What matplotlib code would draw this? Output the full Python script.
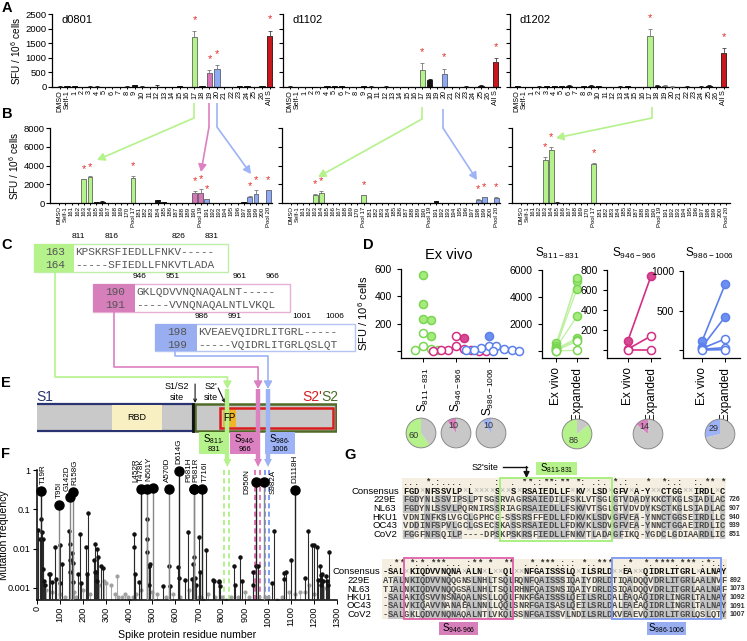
import numpy as np
import matplotlib
matplotlib.use('Agg')
import matplotlib.pyplot as plt
from matplotlib.patches import Rectangle, Polygon, Circle

plt.rcParams['font.family'] = ['Liberation Sans', 'DejaVu Sans']
plt.rcParams['mathtext.fontset'] = 'custom'
plt.rcParams['mathtext.rm'] = 'Liberation Sans'
plt.rcParams['mathtext.it'] = 'Liberation Sans:italic'
plt.rcParams['mathtext.bf'] = 'Liberation Sans:bold'
plt.rcParams['axes.linewidth'] = 0.9
plt.rcParams['xtick.major.width'] = 0.7
plt.rcParams['ytick.major.width'] = 0.8
plt.rcParams['xtick.major.size'] = 2
plt.rcParams['ytick.major.size'] = 3

# ====================== DATA ======================
A_categories = ['DMSO', 'Self-1', '1', '2', '3', '4', '5', '6', '7', '8', '9', '10', '11', '12', '13',
                '14', '15', '16', '17', '18', '19', '20', '21', '22', '23', '24', '25', '26', 'All S']
A_donors = ['d0801', 'd1102', 'd1202']
A_d0801 = [10, 20, 20, 5, 15, 10, 10, 5, 0, 15, 60, 15, 5, 10, 0, 0, 20, 5, 1720, 30, 470, 630, 0, 10, 20, 30, 10, 20, 1750]
A_d0801_err = [10, 10, 10, 5, 10, 10, 5, 5, 0, 10, 20, 10, 5, 60, 0, 0, 10, 5, 200, 10, 120, 110, 0, 5, 10, 15, 5, 10, 180]
A_d1102 = [10, 5, 10, 0, 5, 20, 40, 30, 5, 10, 25, 15, 5, 10, 10, 5, 10, 5, 590, 250, 0, 460, 0, 10, 10, 10, 50, 10, 870]
A_d1102_err = [30, 5, 5, 0, 5, 30, 10, 10, 5, 5, 10, 5, 5, 30, 5, 5, 5, 5, 230, 20, 0, 170, 0, 5, 10, 5, 30, 5, 130]
A_d1202 = [20, 0, 0, 10, 20, 20, 20, 30, 0, 30, 40, 20, 10, 10, 15, 20, 10, 10, 1750, 40, 40, 15, 5, 15, 5, 10, 30, 5, 1150]
A_d1202_err = [10, 0, 0, 10, 30, 10, 15, 30, 0, 20, 40, 15, 5, 5, 10, 10, 5, 5, 220, 30, 40, 10, 5, 10, 5, 10, 30, 5, 180]
A_highlight = {'17': 'g', '19': 'p', '20': 'b', 'All S': 'r'}
A_sig = {'d0801': ['17', '19', '20', 'All S'], 'd1102': ['17', '20', 'All S'], 'd1202': ['17', 'All S']}

B_categories = ['DMSO', 'Self-1', '161', '162', '163', '164', '165', '166', '167', '168', '169', '170', 'Pool 17',
                '181', '182', '183', '184', '185', '186', '187', '188', '189', '190', 'Pool 19',
                '191', '192', '193', '194', '195', '196', '197', '198', '199', '200', 'Pool 20']
B_d0801 = [0, 0, 0, 0, 2550, 2750, 60, 100, 30, 0, 0, 0, 2700, 0, 0, 0, 300, 80, 0, 0, 0, 0, 1100, 1020,
           400, 0, 0, 0, 0, 0, 120, 650, 930, 0, 1360]
B_d0801_err = [0, 0, 0, 0, 60, 80, 30, 150, 20, 0, 0, 0, 200, 0, 0, 0, 50, 30, 0, 0, 0, 0, 200, 480,
               50, 0, 0, 0, 0, 0, 40, 150, 500, 0, 60]
B_d1102 = [30, 0, 0, 0, 900, 1040, 0, 0, 0, 0, 0, 0, 830, 0, 0, 0, 0, 0, 0, 0, 0, 0, 0, 0,
           180, 0, 0, 0, 0, 0, 0, 360, 610, 0, 540]
B_d1102_err = [20, 0, 0, 0, 40, 200, 0, 0, 0, 0, 0, 0, 60, 0, 0, 0, 0, 0, 0, 0, 0, 0, 0, 0,
               30, 0, 0, 0, 0, 0, 0, 50, 80, 0, 80]
B_d1202 = [0, 0, 0, 0, 4550, 5630, 50, 0, 0, 0, 0, 0, 4160, 0, 0, 0, 0, 0, 0, 0, 0, 0, 0, 0,
           0, 0, 0, 0, 0, 0, 0, 0, 0, 0, 0]
B_d1202_err = [0, 0, 0, 0, 400, 330, 20, 0, 0, 0, 0, 0, 80, 0, 0, 0, 0, 0, 0, 0, 0, 0, 0, 0,
               0, 0, 0, 0, 0, 0, 0, 0, 0, 0, 0]
B_highlight = {
    'd0801': {'163': 'g', '164': 'g', 'Pool 17': 'g', '190': 'p', 'Pool 19': 'p', '191': 'b',
              '198': 'b', '199': 'b', 'Pool 20': 'b'},
    'd1102': {'163': 'g', '164': 'g', 'Pool 17': 'g', '198': 'b', '199': 'b', 'Pool 20': 'b'},
    'd1202': {'163': 'g', '164': 'g', 'Pool 17': 'g'}}
B_sig = {'d0801': ['163', '164', 'Pool 17', '190', 'Pool 19', '191', '198', '199', 'Pool 20'],
         'd1102': ['163', '164', 'Pool 17', '198', '199', 'Pool 20'],
         'd1202': ['163', '164', 'Pool 17']}

C_peptides = [('163', 'KPSKRSFIEDLLFNKV-----'), ('164', '-----SFIEDLLFNKVTLADA'),
              ('190', 'GKLQDVVNQNAQALNT-----'), ('191', '-----VVNQNAQALNTLVKQL'),
              ('198', 'KVEAEVQIDRLITGRL-----'), ('199', '-----VQIDRLITGRLQSLQT')]
C_positions = [['811', '816', '826', '831'], ['946', '951', '961', '966'], ['986', '991', '1001', '1006']]

D_epitopes = ['S$_{811-831}$', 'S$_{946-966}$', 'S$_{986-1006}$']
D_exvivo_S811 = [556, 345, 236, 228, 131, 107, 34, 15, 10, 10]
D_exvivo_S811_filled = [1, 1, 1, 1, 0, 1, 0, 0, 0, 0]
D_exvivo_S946 = [107, 95, 34, 15, 10, 5, 5, 3, 2, 1]
D_exvivo_S946_filled = [0, 1, 0, 0, 0, 0, 0, 0, 0, 0]
D_exvivo_S986 = [112, 40, 40, 20, 15, 10, 5, 5, 3, 0]
D_exvivo_S986_filled = [1, 0, 0, 0, 0, 0, 0, 0, 0, 0]
D_pair_S811_exvivo = [556, 345, 236, 228, 131, 107, 34, 10]
D_pair_S811_expanded = [5150, 4600, 5400, 2600, 970, 840, 720, 50]
D_pair_S811_filled = [1, 1, 1, 1, 1, 1, 0, 0]
D_pair_S946_exvivo = [95, 10, 0]
D_pair_S946_expanded = [740, 140, 0]
D_pair_S946_filled = [1, 0, 0]
D_pair_S986_exvivo = [112, 40, 20, 10, 0]
D_pair_S986_expanded = [830, 420, 140, 30, 5]
D_pair_S986_filled = [1, 1, 0, 0, 0]
D_pie_exvivo = [60, 10, 10]
D_pie_expanded = [86, 14, 29]

E_domains = {'S1': (-8, 677), 'RBD': (325, 541), 'S2': (685, 1295), "S2'": (793, 1283), 'FP': (806, 862)}
E_cleavage = {'S1/S2': 685, "S2'": 815}
E_peptide_marks = [825, 958, 1001]
E_label_boxes = [(702, 828), (836, 966), (988, 1118)]

F_peptides = [(811, 831), (946, 966), (986, 1006)]
F_big_names = ['T19R', 'T95I', 'G142D', 'R158G', 'L452R', 'T478K', 'N501Y', 'A570D', 'D614G',
               'P681H', 'P681R', 'T716I', 'D950N', 'S982A', 'D1118H']
F_big_pos = [19, 95, 142, 158, 452, 478, 501, 570, 614, 681, 681, 716, 950, 982, 1118]
F_big_freq = [0.30, 0.13, 0.20, 0.28, 0.32, 0.32, 0.34, 0.32, 0.95, 0.32, 0.32, 0.32, 0.50, 0.50, 0.31]
F_small_pos = [5, 12, 18, 21, 24, 27, 30, 35, 50, 56, 67, 80, 83, 98, 101, 110, 138, 141, 144, 145, 152,
               154, 157, 178, 186, 190, 213, 215, 222, 245, 250, 253, 257, 261, 262, 265, 278, 287, 420,
               420, 423, 440, 477, 477, 478, 484, 485, 486, 490, 547, 570, 575, 613, 617, 640, 655, 672,
               677, 681, 684, 688, 701, 705, 732, 761, 769, 787, 790, 793, 855, 859, 879, 889, 936, 938,
               950, 957, 1020, 1027, 1070, 1072, 1078, 1100, 1162, 1176, 1191, 1202, 1215, 1216, 1228,
               1229, 1230, 1231, 1237, 1240, 1251, 1258, 1263, 1264]
F_small_freq = [0.03, 0.018, 0.055, 0.027, 0.018, 0.003, 0.0015, 0.0012, 0.0023, 0.0022, 0.0014, 0.011,
                0.0017, 0.012, 0.0013, 0.004, 0.028, 0.0025, 0.013, 0.005, 0.0075, 0.0014, 0.0042, 0.0022,
                0.023, 0.0013, 0.011, 0.0023, 0.082, 0.005, 0.0025, 0.013, 0.0025, 0.01, 0.0015, 0.006,
                0.0035, 0.0032, 0.024, 0.011, 0.0022, 0.0014, 0.055, 0.018, 0.0082, 0.0036, 0.0035, 0.0012,
                0.004, 0.0011, 0.0035, 0.0011, 0.0033, 0.0018, 0.0016, 0.027, 0.0017, 0.004, 0.006, 0.0018,
                0.0012, 0.02, 0.0025, 0.009, 0.0016, 0.0015, 0.0014, 0.0015, 0.0011, 0.0035, 0.0012, 0.006,
                0.0015, 0.0025, 0.0012, 0.0037, 0.0036, 0.0013, 0.028, 0.0024, 0.0017, 0.0026, 0.005, 0.0018,
                0.028, 0.012, 0.012, 0.011, 0.0016, 0.0035, 0.0021, 0.0016, 0.0012, 0.0023, 0.0015, 0.002,
                0.0015, 0.0012, 0.008]
F_faint_pos = [40, 65, 100, 120, 160, 170, 200, 230, 270, 290, 300, 320, 340, 345, 350, 370, 380, 395, 400,
               415, 430, 450, 500, 520, 560, 590, 620, 660, 700, 710, 720, 740, 770, 800, 820, 840, 870, 900,
               920, 960, 990, 1000, 1040, 1060, 1090, 1120, 1140, 1160, 1180, 1200, 1245]
F_faint_freq = [0.0009, 0.0008, 0.0007, 0.0006, 0.0008, 0.0006, 0.0009, 0.0007, 0.0012, 0.0015, 0.0013,
                0.0012, 0.0007, 0.002, 0.0006, 0.0006, 0.0007, 0.0006, 0.0005, 0.0006, 0.0007, 0.0009,
                0.0008, 0.0007, 0.0006, 0.0007, 0.0006, 0.0009, 0.0006, 0.0006, 0.0005, 0.0007, 0.0006,
                0.0006, 0.0005, 0.0006, 0.0006, 0.0008, 0.0006, 0.0006, 0.0006, 0.0006, 0.0005, 0.0006,
                0.0008, 0.0007, 0.0008, 0.0008, 0.0012, 0.0007, 0.001]

G_names = ['229E', 'NL63', 'HKU1', 'OC43', 'CoV2']
G_top_consensus = 'FGD×NFSSVLP×L××××S××S×RSAIEDLLF×KV×LSD×GFV×A-Y××CTGG××IRDL×C'
G_top_seqs = ['FGDYNLSSVIPSLPTSGSRVAGRSAIEDILFSKLVTSGLGTVDADYKKCTKGLSIADLAC',
              'FGDYNLSSVLPQRNIRSSRIAGRSAIEDLLFSKVVTSGLGTVDVDYKSCTKGLSIADLAC',
              'VDNINFKSLVGCLGPHCG-SSSRSFFEDLLFDKVKLSDVGFVEA-YNNCTGGSEIRDLLC',
              'VDDINFSPVLGCLGSECSKASSRSAIEDLLFDKVKLSDVGFVEA-YNNCTGGAEIRDLIC',
              'FGGFNFSQILP----DPSKPSKRSFIEDLLFNKVTLADAGFIKQ-YGDCLGDIAARDLIC']
G_top_numbers = ['726', '907', '940', '939', '851']
G_bot_consensus = '-SAL×KIQDVVNQNA×ALN×L××QL××NFGAISSSLQ×ILSRLD××EA××QIDRLITGRL×ALNAY'
G_bot_seqs = ['ATALNKIQDVVNQQGNSLNHLTSQLRQNFQAISSSIQAIYDRLDTIQADQQVDRLITGRLAALNVF',
              'TIALNKIQDVVNQQGSALNHLTSQLRHNFQAISNSIQAIYDRLDSIQADQQVDRLITGRLAALNAF',
              '-SALAKIQSVVNSNAQALNSLLQQLFNKFGAISSSLQEILSRLDALEAQAQIDRLINGRLTALNAY',
              '-SALVKIQAVVNANAEALNNLLQQLSNRFGAISASLQEILSRLDALEAEAQIDRLINGRLTALNAY',
              '-SALGKLQDVVNQNAQALNTLVKQLSSNFGAISSVLNDILSRLDKVEAEVQIDRLITGRLQSLQTY']
G_bot_numbers = ['892', '1073', '1092', '1091', '1007']

# ====================== STYLE ======================
W, H = 747, 641
fig = plt.figure(figsize=(W / 100, H / 100), dpi=100)

COL = {'k': '#111111', 'g': '#b5f28b', 'p': '#d676b8', 'b': '#8fa9f2', 'r': '#c8181e'}
EDGE = {'k': '#111111', 'g': '#5f6a58', 'p': '#5d5560', 'b': '#556070', 'r': '#3a0a0a'}
ERRC = {'k': '#111111', 'g': '#777777', 'p': '#777777', 'b': '#777777', 'r': '#444444'}
STAR = '#e5302a'
LGREEN, LPINK, LBLUE = '#b5f28b', '#db80c0', '#9db3f5'


def axpx(x0, y0, x1, y1, **kw):
    return fig.add_axes([x0 / W, 1 - y1 / H, (x1 - x0) / W, (y1 - y0) / H], **kw)


def clean(ax):
    for s in ['top', 'right']:
        ax.spines[s].set_visible(False)
    ax.patch.set_alpha(0)


def bar_panel(ax, cats, vals, errs, highlight, sig, width, star_off):
    x = np.arange(len(cats))
    keys = [highlight.get(c, 'k') for c in cats]
    ax.bar(x, vals, width=width, color=[COL[k] for k in keys],
           edgecolor=[EDGE[k] for k in keys], linewidth=0.6, zorder=2)
    for xi, v, e, k in zip(x, vals, errs, keys):
        if e > 0:
            ax.errorbar(xi, v, yerr=[[0], [e]], fmt='none', ecolor=ERRC[k], elinewidth=0.6,
                        capsize=1.3, capthick=0.6, zorder=3)
    for c in sig:
        i = cats.index(c)
        ax.text(i, vals[i] + errs[i] + star_off, '*', color=STAR, ha='center', va='center',
                fontsize=8, zorder=4)


# ---------------- Panel A ----------------
A_vals = [A_d0801, A_d1102, A_d1202]
A_errs = [A_d0801_err, A_d1102_err, A_d1202_err]
A_px = [(52, 274), (283, 500), (510, 728)]
for k, donor in enumerate(A_donors):
    ax = axpx(A_px[k][0], 14, A_px[k][1], 87)
    clean(ax)
    bar_panel(ax, A_categories, A_vals[k], A_errs[k], A_highlight, A_sig[donor], 0.72, 380)
    ax.set_xlim(-1, 28.6)
    ax.set_ylim(0, 2500)
    ax.set_yticks([0, 500, 1000, 1500, 2000, 2500])
    ax.set_xticks(range(len(A_categories)))
    ax.set_xticklabels(A_categories, rotation=90, fontsize=5.2)
    ax.tick_params(axis='x', length=1.5, pad=1)
    ax.tick_params(axis='y', labelsize=6.8, pad=1)
    if k == 0:
        ax.set_ylabel('SFU / 10$^6$ cells', fontsize=7.2, labelpad=2)
    else:
        ax.set_yticklabels([])
    ax.text(0.045, 0.985, donor, transform=ax.transAxes, fontsize=8, va='top')

# ---------------- Panel B ----------------
B_vals = [B_d0801, B_d1102, B_d1202]
B_errs = [B_d0801_err, B_d1102_err, B_d1202_err]
B_px = [(50, 272), (282, 500), (512, 730)]
for k, donor in enumerate(A_donors):
    ax = axpx(B_px[k][0], 128, B_px[k][1], 203)
    clean(ax)
    bar_panel(ax, B_categories, B_vals[k], B_errs[k], B_highlight[donor], B_sig[donor], 0.78, 1050)
    ax.set_xlim(-1.5, 34.6)
    ax.set_ylim(0, 8000)
    ax.set_yticks([0, 2000, 4000, 6000, 8000])
    ax.set_xticks(range(len(B_categories)))
    ax.set_xticklabels(B_categories, rotation=90, fontsize=4.3)
    ax.tick_params(axis='x', length=1.5, pad=1)
    ax.tick_params(axis='y', labelsize=6.8, pad=1)
    if k == 0:
        ax.set_ylabel('SFU / 10$^6$ cells', fontsize=7.2, labelpad=2)
    else:
        ax.set_yticklabels([])

# ---------------- Panel D ----------------
DG_E, DG_F, DG_L = '#7bd654', '#a6eb7d', '#bdf0a0'
DP_E, DP_F, DP_L = '#d22f84', '#d64a92', '#d22f84'
DB_E, DB_F, DB_L = '#5b80ec', '#6d8ff0', '#5b80ec'


def swarm_offsets(vals, ypx, xpx, d):
    vals = np.asarray(vals, dtype=float)
    order = np.argsort(-vals, kind='stable')
    placed = []
    offs = np.zeros(len(vals))
    for i in order:
        y = vals[i] * ypx
        cands = [0.0]
        for s in range(1, 30):
            cands += [s * d * 0.5, -s * d * 0.5]
        for c in cands:
            if all((c - px) ** 2 + (y - py) ** 2 >= (0.85 * d) ** 2 for px, py in placed):
                placed.append((c, y))
                offs[i] = c / xpx
                break
    return offs


MS = 5.8
d1 = axpx(401, 269, 507, 358)
clean(d1)
d1.set_xlim(-0.67, 2.55)
d1.set_ylim(-51, 600)
sets = [(D_exvivo_S811, D_exvivo_S811_filled, DG_E, DG_F),
        (D_exvivo_S946, D_exvivo_S946_filled, DP_E, DP_F),
        (D_exvivo_S986, D_exvivo_S986_filled, DB_E, DB_F)]
for j, (vals, filled, ec, fc) in enumerate(sets):
    offs = swarm_offsets(vals, 82 / 600, 33, 7.6)
    for v, f, o in zip(vals, filled, offs):
        d1.plot(j + o, v, 'o', ms=MS, mec=ec, mfc=fc if f else 'white', mew=1.1, zorder=3, clip_on=False)
d1.set_yticks([0, 200, 400, 600])
d1.set_yticklabels(['', '200', '400', '600'])
d1.set_xticks([0, 1, 2])
d1.set_xticklabels(D_epitopes, rotation=90, fontsize=8.5)
d1.tick_params(labelsize=7.5)
d1.tick_params(axis='x', labelsize=8.5, length=3)
d1.set_ylabel('SFU / 10$^6$ cells', fontsize=8, labelpad=3)

pair_sets = [
    ((542, 270, 588, 358), (-0.67, 1.52), (-518, 6000), [0, 2000, 4000, 6000], ['', '2000', '4000', '6000'],
     D_pair_S811_exvivo, D_pair_S811_expanded, D_pair_S811_filled, DG_E, DG_F, DG_L, 0.9),
    ((607, 270, 660, 358), (-0.91, 1.39), (-80, 800), [0, 200, 400, 600, 800], ['', '200', '400', '600', '800'],
     D_pair_S946_exvivo, D_pair_S946_expanded, D_pair_S946_filled, DP_E, DP_F, DP_L, 1.2),
    ((683, 271, 740, 358), (-0.83, 1.65), (-101, 1000), [0, 500, 1000], ['', '500', '1000'],
     D_pair_S986_exvivo, D_pair_S986_expanded, D_pair_S986_filled, DB_E, DB_F, DB_L, 1.2),
]
for j, (px, xl, yl, yt, ytl, ev, ex_, fl, ec, fc, lc, lw) in enumerate(pair_sets):
    ax = axpx(*px)
    clean(ax)
    ax.set_xlim(*xl)
    ax.set_ylim(*yl)
    for a, b, f in zip(ev, ex_, fl):
        ax.plot([0, 1], [a, b], '-', color=lc, lw=lw, zorder=2)
        ax.plot([0, 1], [a, b], 'o', ms=MS, mec=ec, mfc=fc if f else 'white', mew=1.1, zorder=3,
                clip_on=False)
    ax.set_yticks(yt)
    ax.set_yticklabels(ytl)
    ax.set_xticks([0, 1])
    ax.set_xticklabels(['Ex vivo', 'Expanded'], rotation=90)
    ax.tick_params(axis='y', labelsize=7.5)
    ax.tick_params(axis='x', labelsize=8.5, length=3)

# pies
pie_specs = [((421, 433), D_pie_exvivo[0], LGREEN), ((456, 433), D_pie_exvivo[1], LPINK),
             ((491, 433), D_pie_exvivo[2], LBLUE), ((577, 434), D_pie_expanded[0], LGREEN),
             ((648, 434), D_pie_expanded[1], LPINK), ((720, 434), D_pie_expanded[2], LBLUE)]
for (cx, cy), pct, c in pie_specs:
    r = 15.6
    ax = axpx(cx - r, cy - r, cx + r, cy + r)
    ax.pie([pct, 100 - pct], colors=[c, '#c8c8c8'], startangle=90,
           wedgeprops=dict(edgecolor='none'))
    ax.add_patch(Circle((0, 0), 1, fill=False, ec='#8a8a8a', lw=0.7))
    ang = np.deg2rad(90 + 3.6 * pct / 2)
    rr = 0.5 if pct > 30 else 0.55
    ax.text(rr * np.cos(ang), rr * np.sin(ang), str(pct), ha='center', va='center', fontsize=6.5,
            color='#333333')
    ax.set_xlim(-1.05, 1.05)
    ax.set_ylim(-1.05, 1.05)
    ax.set_aspect('equal')
    ax.axis('off')

# ---------------- Panel F ----------------
F_BOT = 10 ** -3.31
fx = axpx(37, 470, 337, 600)
clean(fx)
fx.set_yscale('log')
fx.set_xlim(0, 1300)
fx.set_ylim(F_BOT, 1)
fx.vlines(F_faint_pos, F_BOT, F_faint_freq, colors='#a8a8a8', lw=0.8, zorder=2)
fx.plot(F_faint_pos, F_faint_freq, 'o', ms=2, color='#a0a0a0', zorder=2)
fx.vlines(F_small_pos, F_BOT, F_small_freq, colors='#2a2a2a', lw=0.8, zorder=3)
fx.plot(F_small_pos, F_small_freq, 'o', ms=2.2, color='#111111', zorder=3)
big_stem = ['#222', '#888', '#888', '#888', '#222', '#888', '#888', '#888', '#222', '#888', '#888',
            '#222', '#222', '#888', '#222']
label_dx = [1, 0, -2, 1, -4, -4, -3, -1, 0, -3.5, 1.5, 2.5, -7, 7, 0]
for p, f, n, sc, dx in zip(F_big_pos, F_big_freq, F_big_names, big_stem, label_dx):
    fx.vlines(p, F_BOT, f, colors=sc, lw=1.0, zorder=3)
    fx.plot(p, f, 'o', ms=6.5, color='#000000', zorder=4, clip_on=False)
    if n in ('D950N', 'S982A'):
        fx.annotate(n, (p, f), xytext=(dx, 0), textcoords='offset points', rotation=90,
                    ha='center', va='center', fontsize=5.8)
    else:
        fx.annotate(n, (p, f), xytext=(dx, 5), textcoords='offset points', rotation=90,
                    ha='center', va='bottom', fontsize=5.8)
pep_cols = ['#a6ee78', '#e060a8', '#6a8cf0']
for (a, b), c in zip(F_peptides, pep_cols):
    for v in (a, b):
        fx.plot([v, v], [F_BOT, 1.1], ls=(0, (3, 2)), color=c, lw=1.2, zorder=1, clip_on=False)
fx.set_yticks([0.001, 0.01, 0.1, 1])
fx.set_yticklabels(['0.001', '0.01', '0.1', '1'])
fx.minorticks_off()
fx.set_xticks(range(0, 1301, 100))
fx.set_xticklabels([str(v) for v in range(0, 1301, 100)], rotation=90)
fx.tick_params(labelsize=6.6, length=3, pad=1.5)
fx.set_xlabel('Spike protein residue number', fontsize=7.6)
fx.set_ylabel('Mutation frequency', fontsize=7.6)
fx.xaxis.set_label_coords(0.5, -0.228)
fx.yaxis.set_label_coords(-0.092, 0.5)
for s in ['left', 'bottom']:
    fx.spines[s].set_linewidth(1.1)

# ---------------- Panel E ----------------
ex = axpx(37, 380, 337, 470)
ex.set_xlim(0, 1300)
ex.set_ylim(470, 380)
ex.axis('off')
s1 = E_domains['S1']
ex.add_patch(Rectangle((s1[0], 404), s1[1] - s1[0], 27, fc='#c9c9c9', ec='#28336f', lw=1.6, zorder=2))
rbd = E_domains['RBD']
ex.add_patch(Rectangle((rbd[0], 405.3), rbd[1] - rbd[0], 24.4, fc='#f8f0c2', ec='none', zorder=3))
ex.plot([s1[1], s1[1]], [404, 431], color='#111111', lw=2.0, zorder=4)
s2 = E_domains['S2']
ex.add_patch(Rectangle((s2[0], 404), s2[1] - s2[0], 27, fc='#c9c9c9', ec='#4f6b25', lw=1.8, zorder=2))
fp = E_domains['FP']
ex.add_patch(Rectangle((fp[0], 408), fp[1] - fp[0], 19, fc='#f0b429', ec='none', zorder=3))
s2p = E_domains["S2'"]
ex.add_patch(Rectangle((s2p[0], 407.5), s2p[1] - s2p[0], 20, fc='none', ec='#d81e1e', lw=1.8, zorder=4))
ex.text(433, 417.5, 'RBD', ha='center', va='center', fontsize=6.5, zorder=5)
ex.text(834, 418, 'FP', ha='center', va='center', fontsize=7, zorder=9)
ex.text(35, 397, 'S1', color='#28336f', fontsize=10, ha='center', va='center')
ex.text(1192, 397, "S2'", color='#d81e1e', fontsize=10, ha='center', va='center')
ex.text(1270, 397, 'S2', color='#4f6b25', fontsize=10, ha='center', va='center')
ex.text(605, 392, 'S1/S2\nsite', fontsize=6.5, ha='center', va='center', linespacing=1.3)
ex.text(753, 392, "S2'\nsite", fontsize=6.5, ha='center', va='center', linespacing=1.3)
ex.annotate('', xy=(E_cleavage['S1/S2'], 403), xytext=(E_cleavage['S1/S2'], 384),
            arrowprops=dict(arrowstyle='->', lw=0.8, color='#111111', shrinkA=0, shrinkB=0, mutation_scale=5))
ex.annotate('', xy=(E_cleavage["S2'"], 403), xytext=(785, 388),
            arrowprops=dict(arrowstyle='->', lw=0.8, color='#111111', shrinkA=0, shrinkB=0, mutation_scale=5))
box_cols = [LGREEN, LPINK, LBLUE]
box_txt = [('811-', '831'), ('946-', '966'), ('986-', '1006')]
for (a, b), c, (t1, t2) in zip(E_label_boxes, box_cols, box_txt):
    ex.add_patch(Rectangle((a, 432), b - a, 22, fc=c, ec='none', zorder=2, clip_on=False))
    ex.text((a + b) / 2, 439.5, 'S$_{' + t1.replace('-', '\u2010') + '}$', ha='center', va='center',
            fontsize=7, zorder=3)
    ex.text((a + b) / 2, 449.5, t2, ha='center', va='center', fontsize=5.5, zorder=3)
mark_cols = [LGREEN, LPINK, LBLUE]
for m, c in zip(E_peptide_marks, mark_cols):
    ex.plot([m, m], [389, 460], color=c, lw=3.2, zorder=7, solid_capstyle='butt', clip_on=False)
    ex.add_patch(Polygon([(m - 17, 459), (m + 17, 459), (m, 467)], closed=True, fc=c, ec='none',
                         zorder=7, clip_on=False))

# ---------------- Overlay (C, G, arrows, letters) ----------------
ov = fig.add_axes([0, 0, 1, 1], zorder=10)
ov.set_xlim(0, W)
ov.set_ylim(H, 0)
ov.axis('off')
ov.patch.set_alpha(0)


def arrow(pts, c, lw=1.2):
    xs, ys = zip(*pts)
    ov.plot(xs[:-1], ys[:-1], color=c, lw=lw, solid_capstyle='butt')
    ov.annotate('', xy=pts[-1], xytext=pts[-2],
                arrowprops=dict(arrowstyle='-|>,head_length=0.55,head_width=0.3', color=c, lw=lw,
                                shrinkA=0, shrinkB=0, mutation_scale=8))


# A -> B arrows
arrow([(194, 103), (194, 118), (97, 160)], LGREEN)
arrow([(209, 103), (209, 127), (201, 172)], LPINK)
arrow([(217, 103), (217, 127), (251, 174)], LBLUE)
arrow([(422, 107), (422, 119), (318, 177)], LGREEN)
arrow([(443, 109), (443, 128), (477, 180)], LBLUE)
arrow([(652, 107), (652, 118), (556, 138)], LGREEN)

# Panel C
mono = 'Liberation Mono'
cw = 6.67
c_boxes = [((34, 244, 228, 272), 74, LGREEN, '#bdeeaa'),
           ((93, 284, 290, 312), 135, '#d67fba', '#e6b0d4'),
           ((155, 324, 355, 351), 197, '#98aef0', '#b4c4f3')]
for bi, ((x0, y0, x1, y1), xs, fc, ec) in enumerate(c_boxes):
    ov.add_patch(Rectangle((x0, y0), x1 - x0, y1 - y0, fc='white', ec=ec, lw=1.0))
    ov.add_patch(Rectangle((x0, y0), xs - x0, y1 - y0, fc=fc, ec='none'))
    for r in range(2):
        num, seq = C_peptides[bi * 2 + r]
        yy = y0 + 8 + r * 13
        ov.text((x0 + xs) / 2 + 1, yy, num, fontfamily=mono, fontsize=8, color='#555555',
                ha='center', va='center')
        ov.text(xs + 1, yy, seq, fontfamily=mono, fontsize=8, color='#555555', ha='left', va='center')
    for lab, ci in zip(C_positions[bi], [0, 5, 15, 20]):
        ov.text(xs + 1 + (ci + 0.5) * cw, y0 - 3.5, lab, fontsize=6, ha='center', va='bottom')

arrow([(55, 272), (55, 377), (227.4, 377), (227.4, 389)], LGREEN)
arrow([(114, 312), (114, 367), (258.1, 367), (258.1, 389)], LPINK)
arrow([(175, 351), (175, 356), (268, 356), (268, 389)], LBLUE)

# D titles
ov.text(449, 255, 'Ex vivo', fontsize=10.5, ha='center', va='center')
for xx, t in zip([557, 634, 710], D_epitopes):
    ov.text(xx, 253, t, fontsize=8.5, ha='center', va='center')

# Panel G


def cons_symbols(seqs):
    out = ''
    for col in zip(*seqs):
        letters = [c for c in col if c != '-']
        if len(letters) == 0:
            out += ' '
            continue
        mx = max(letters.count(c) for c in set(letters))
        if mx == len(col):
            out += '*'
        elif mx >= 4:
            out += ':'
        elif mx >= 3:
            out += '.'
        else:
            out += ' '
    return out


def alignment(x0, cw, y_sym, y_cons, y_first, rh, cons, seqs, nums, name_x, cons_x, num_x):
    n = len(cons)
    top = y_sym - 4.5
    bot = y_first + rh * (len(seqs) - 1) + rh / 2
    ov.add_patch(Rectangle((x0 - 1, top), n * cw + 2, bot - top, fc='#f4efe1', ec='none', zorder=1))
    syms = cons_symbols(seqs)
    for i, s in enumerate(syms):
        ov.text(x0 + (i + 0.5) * cw, y_sym, s, fontfamily=mono, fontsize=6.3, fontweight='bold',
                ha='center', va='center', color='#333333', zorder=3)
    for i, c in enumerate(cons):
        if c == '×':
            ov.text(x0 + (i + 0.5) * cw, y_cons, c, fontfamily=mono, fontsize=6.3, ha='center',
                    va='center', color='#b0b0b0', zorder=3)
        else:
            ov.text(x0 + (i + 0.5) * cw, y_cons, c, fontfamily=mono, fontsize=6.3, fontweight='bold',
                    ha='center', va='center', color='#111111', zorder=3)
    ov.text(cons_x, y_cons, 'Consensus', fontsize=6.8, ha='right', va='center')
    for r, (nm, sq, nu) in enumerate(zip(G_names, seqs, nums)):
        yy = y_first + r * rh
        for i, c in enumerate(sq):
            if c == cons[i] and c not in '×-':
                ov.add_patch(Rectangle((x0 + i * cw, yy - rh / 2), cw, rh, fc='#c4c4c4', ec='none',
                                       zorder=2))
            ov.text(x0 + (i + 0.5) * cw, yy, c, fontfamily=mono, fontsize=6.3, fontweight='bold',
                    ha='center', va='center', color='#4a4a4a', zorder=3)
        ov.text(name_x, yy, nm, fontsize=6.8, ha='center', va='center')
        ov.text(num_x, yy, nu, fontsize=5, ha='left', va='center', fontweight='bold', color='#333333')
    return top, bot


t0, t1 = alignment(403, 5.37, 482.5, 491, 499.7, 8.7, G_top_consensus, G_top_seqs, G_top_numbers,
                   385, 399, 729)
ov.add_patch(Rectangle((403 + 18 * 5.37, 478), 21 * 5.37, 63, fc='none', ec='#a6ee78', lw=1.3, zorder=5))
ov.add_patch(Rectangle((536, 462), 41, 13, fc=LGREEN, ec='none', zorder=5))
ov.text(556.5, 468.5, 'S$_{811\u2010831}$', fontsize=7, ha='center', va='center', zorder=6)
ov.text(485, 467, "S2'site", fontsize=6.5, ha='center', va='center')
ov.plot([503, 526.5], [467, 467], color='#111111', lw=1.0)
ov.annotate('', xy=(526.5, 478), xytext=(526.5, 466.5),
            arrowprops=dict(arrowstyle='-|>,head_length=0.5,head_width=0.25', color='#111111', lw=1.0,
                            shrinkA=0, shrinkB=0, mutation_scale=7))

b0, b1 = alignment(383, 5.2, 563, 572, 580.5, 8.5, G_bot_consensus, G_bot_seqs, G_bot_numbers,
                   359, 380, 730)
ov.add_patch(Rectangle((383 + 4 * 5.2, 558), 21 * 5.2, 61, fc='none', ec='#e060a8', lw=1.3, zorder=5))
ov.add_patch(Rectangle((383 + 44 * 5.2, 558), 21 * 5.2, 61, fc='none', ec='#7b98f2', lw=1.3, zorder=5))
ov.add_patch(Rectangle((439, 622), 39, 13, fc='#d67fba', ec='none', zorder=5))
ov.text(458.5, 628.5, 'S$_{946\u2010966}$', fontsize=7, ha='center', va='center', zorder=6)
ov.add_patch(Rectangle((647, 622), 39, 13, fc='#98aef0', ec='none', zorder=5))
ov.text(666.5, 628.5, 'S$_{986\u20101006}$', fontsize=7, ha='center', va='center', zorder=6)

# Panel letters
for lab, (x, y) in zip('ABCDEFG', [(7, 8), (7, 114), (7, 245), (368, 245), (6, 383), (6, 454), (350, 455)]):
    ov.text(x, y, lab, fontsize=10.5, fontweight='bold', ha='center', va='center')

fig.savefig('out.png', dpi=100)
